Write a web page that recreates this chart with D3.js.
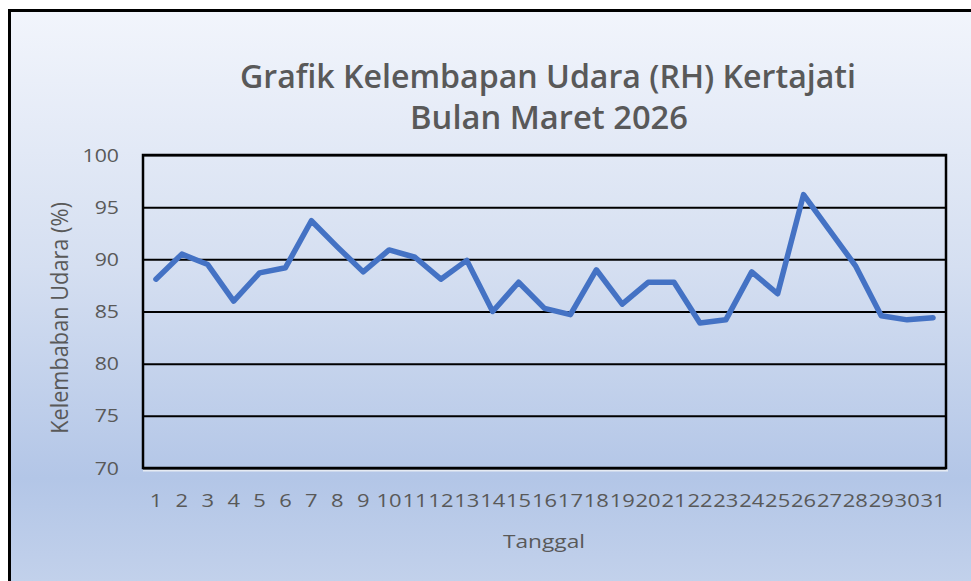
<!DOCTYPE html>
<html>
<head>
<meta charset="utf-8">
<script src="https://cdn.jsdelivr.net/npm/d3@7"></script>
<style>
  html, body { margin: 0; padding: 0; background: #ffffff; }
  svg { display: block; }
</style>
</head>
<body>
<svg id="chart" width="971" height="581"></svg>
<script>
// ---- data ----
const days = d3.range(1, 32).map(String);
const rhValues = [88.1, 90.5, 89.5, 86.0, 88.7, 89.2, 93.7, 91.2, 88.8, 90.9,
                  90.2, 88.1, 89.9, 85.0, 87.8, 85.3, 84.7, 89.0, 85.7, 87.8,
                  87.8, 83.9, 84.2, 88.8, 86.7, 96.2, 92.8, 89.4, 84.6, 84.2, 84.4];
const yTicks = [70, 75, 80, 85, 90, 95, 100];
const titleLines = ["Grafik Kelembapan Udara (RH) Kertajati", "Bulan Maret 2026"];
const xTitle = "Tanggal";
const yTitle = "Kelembaban Udara (%)";

const svg = d3.select("#chart");
const W = 971, H = 581;
const plot = { left: 143, right: 946, top: 155, bottom: 468 };

// background gradient
const defs = svg.append("defs");
const grad = defs.append("linearGradient").attr("id", "bg")
  .attr("gradientUnits", "userSpaceOnUse")
  .attr("x1", 0).attr("y1", 10).attr("x2", 0).attr("y2", 581);
[[0, "#f2f5fc"], [0.45, "#d5dff1"], [0.82, "#b3c6e7"], [1, "#c2d1eb"]].forEach(([o, c]) =>
  grad.append("stop").attr("offset", o).attr("stop-color", c));

svg.append("rect").attr("x", 0).attr("y", 0).attr("width", W).attr("height", H).attr("fill", "#ffffff");
svg.append("rect").attr("x", 9.5).attr("y", 10.5).attr("width", W + 20).attr("height", H + 20)
  .attr("fill", "url(#bg)").attr("stroke", "#000").attr("stroke-width", 3);

const x = d3.scaleBand().domain(days).range([plot.left, plot.right]);
const y = d3.scaleLinear().domain([70, 100]).range([plot.bottom, plot.top]);

// light highlight under plot bottom
svg.append("line").attr("x1", plot.left).attr("x2", plot.right + 2)
  .attr("y1", plot.bottom + 2.5).attr("y2", plot.bottom + 2.5)
  .attr("stroke", "#e6ebf3").attr("stroke-width", 2);

// gridlines
const yAxis = d3.axisLeft(y).tickValues(yTicks).tickSize(-(plot.right - plot.left)).tickFormat("");
const gy = svg.append("g").attr("transform", `translate(${plot.left},0)`).call(yAxis);
gy.select(".domain").remove();
gy.selectAll(".tick line").attr("stroke", "#000").attr("stroke-width", 2);

// plot border
svg.append("rect").attr("x", plot.left).attr("y", plot.top)
  .attr("width", plot.right - plot.left).attr("height", plot.bottom - plot.top)
  .attr("fill", "none").attr("stroke", "#000").attr("stroke-width", 2.5);

// y tick labels
const FONT = "'Open Sans', 'Noto Sans', sans-serif";
const yLab = svg.append("g");
yTicks.forEach(t => {
  yLab.append("text")
    .attr("transform", `translate(119,${y(t) + 6.5}) scale(1.18,1)`)
    .attr("text-anchor", "end")
    .attr("font-family", FONT).attr("font-size", 18).attr("fill", "#595959")
    .text(t);
});

// x tick labels
const xLab = svg.append("g");
days.forEach(d => {
  xLab.append("text")
    .attr("transform", `translate(${x(d) + x.bandwidth() / 2},${507}) scale(1.22,1)`)
    .attr("text-anchor", "middle")
    .attr("font-family", FONT).attr("font-size", 18).attr("fill", "#595959")
    .text(d);
});

// line
const line = d3.line().x((v, i) => x(days[i]) + x.bandwidth() / 2).y(v => y(v));
svg.append("path").datum(rhValues).attr("d", line)
  .attr("fill", "none").attr("stroke", "#4472c4").attr("stroke-width", 5.5)
  .attr("stroke-linejoin", "round").attr("stroke-linecap", "round");

// helper to fit text width
function fitted(cx, cy, str, size, weight, targetW, rotate) {
  const g = svg.append("g");
  const t = g.append("text").attr("text-anchor", "middle")
    .attr("font-family", FONT).attr("font-size", size).attr("font-weight", weight)
    .attr("fill", "#595959").text(str);
  const len = t.node().getComputedTextLength();
  const k = targetW / len;
  if (rotate) {
    g.attr("transform", `translate(${cx},${cy}) rotate(-90) scale(${k},1.2)`);
  } else {
    g.attr("transform", `translate(${cx},${cy}) scale(${k},1)`);
  }
}

fitted(548, 88, titleLines[0], 32, 600, 616);
fitted(549, 129, titleLines[1], 32, 600, 278);
fitted(544, 548, xTitle, 19, 400, 82);
fitted(68, 318, yTitle, 19, 400, 232, true);
</script>
</body>
</html>
